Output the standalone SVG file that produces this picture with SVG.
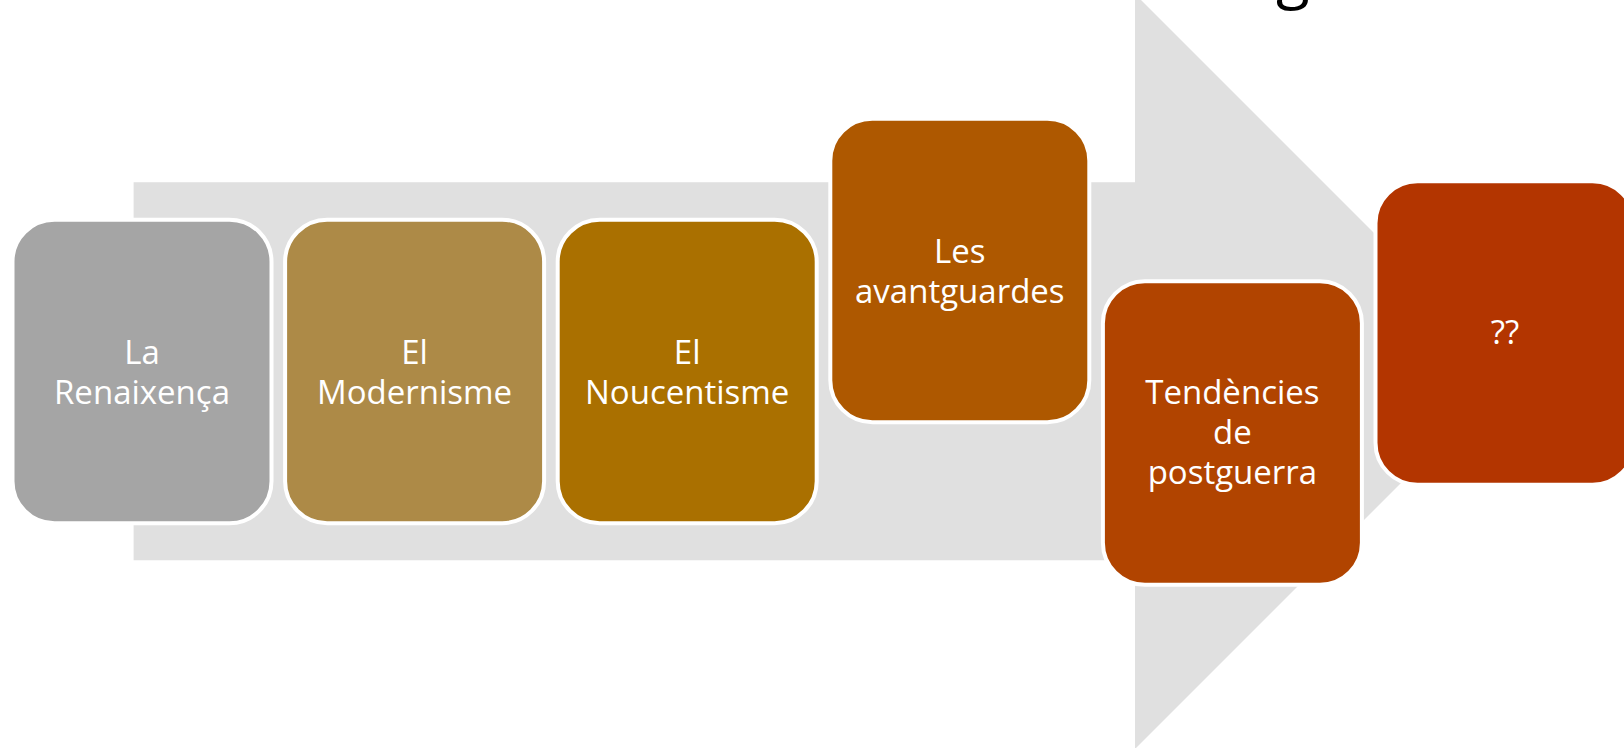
<svg xmlns="http://www.w3.org/2000/svg" width="1624" height="748" viewBox="0 0 1624 748">
<style>
.box{stroke:#FFFFFF;stroke-width:4}
.lbl{font-family:"Open Sans","Noto Sans","Liberation Sans",sans-serif;font-size:33px;fill:#FFFFFF;text-anchor:middle}
</style>
<rect x="0" y="0" width="1624" height="748" fill="#FFFFFF"/>
<text x="1276" y="-4" font-family="Open Sans, Noto Sans, sans-serif" font-size="62" fill="#000000">g</text>
<g id="connectors">
<polygon points="133.6,182.3 1135,182.3 1135,-6 1512.5,371.5 1135,749 1135,560.3 133.6,560.3" fill="#E0E0E0"/>
</g>
<g id="node1">
<rect class="box" x="12.5" y="219.7" width="259" height="303.5" rx="42" fill="#A5A5A5"/>
<text class="lbl" x="142" y="364">La</text>
<text class="lbl" x="142" y="404">Renaixença</text>
</g>
<g id="node2">
<rect class="box" x="285.1" y="219.7" width="259" height="303.5" rx="42" fill="#AD8A47"/>
<text class="lbl" x="414.6" y="364">El</text>
<text class="lbl" x="414.6" y="404">Modernisme</text>
</g>
<g id="node3">
<rect class="box" x="557.7" y="219.7" width="259" height="303.5" rx="42" fill="#AA7000"/>
<text class="lbl" x="687.2" y="364">El</text>
<text class="lbl" x="687.2" y="404">Noucentisme</text>
</g>
<g id="node4">
<rect class="box" x="830.3" y="118.7" width="259" height="303.5" rx="42" fill="#AE5800"/>
<text class="lbl" x="959.8" y="263">Les</text>
<text class="lbl" x="959.8" y="303">avantguardes</text>
</g>
<g id="node5">
<rect class="box" x="1102.9" y="281.3" width="259" height="303.5" rx="42" fill="#B14400"/>
<text class="lbl" x="1232.4" y="404">Tendències</text>
<text class="lbl" x="1232.4" y="444">de</text>
<text class="lbl" x="1232.4" y="484">postguerra</text>
</g>
<g id="node6">
<rect class="box" x="1375.5" y="181.2" width="259" height="303.5" rx="42" fill="#B33500"/>
<text class="lbl" x="1505" y="344">??</text>
</g>
</svg>
